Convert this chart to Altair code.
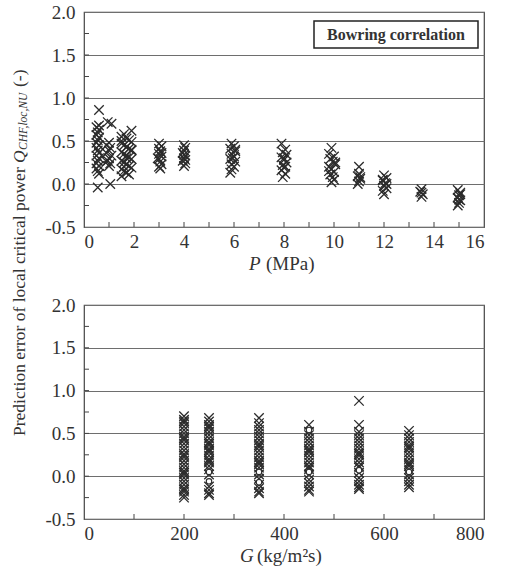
import altair as alt
import pandas as pd

FONT = "Liberation Serif"
INK = "#2b2b2b"

# ---------------- top panel: prediction error vs pressure P (MPa) ----------------
g05_x = [0.6, 0.6, 0.5, 0.6, 0.55, 0.5, 0.6, 0.55, 0.5, 0.6, 0.5, 0.55, 0.6, 0.5, 0.6, 0.55, 0.5, 0.6, 0.5, 0.55, 0.6, 0.55]
g05_y = [0.86, 0.68, 0.66, 0.63, 0.60, 0.57, 0.54, 0.51, 0.48, 0.45, 0.42, 0.39, 0.36, 0.33, 0.30, 0.27, 0.24, 0.21, 0.18, 0.15, 0.12, -0.04]
g10_x = [0.95, 1.1, 1.0, 0.9, 1.05, 1.0, 0.9, 1.1, 1.0, 0.95, 1.05, 1.0, 0.9, 1.05]
g10_y = [0.72, 0.70, 0.48, 0.45, 0.42, 0.39, 0.36, 0.33, 0.30, 0.27, 0.24, 0.21, 0.26, 0.00]
g17_x = [1.9, 1.6, 1.5, 1.7, 1.8, 1.9, 1.5, 1.6, 1.7, 1.8, 1.9, 1.5, 1.6, 1.7, 1.8,
         1.9, 1.5, 1.6, 1.7, 1.8, 1.9, 1.5, 1.6, 1.7, 1.8, 1.5, 1.9, 1.7, 1.6, 1.5]
g17_y = [0.62, 0.58, 0.55, 0.53, 0.51, 0.49, 0.47, 0.45, 0.43, 0.41, 0.39, 0.37, 0.35, 0.33, 0.31,
         0.29, 0.27, 0.25, 0.23, 0.21, 0.19, 0.17, 0.15, 0.13, 0.11, 0.09, 0.40, 0.30, 0.20, 0.50]
g3_x = [3.0, 3.1, 3.0, 3.05, 3.0, 3.1, 3.0, 3.05, 3.1, 3.0, 3.05, 3.1, 2.95]
g3_y = [0.47, 0.44, 0.41, 0.38, 0.35, 0.32, 0.29, 0.26, 0.23, 0.20, 0.18, 0.36, 0.30]
g4_x = [4.0, 4.05, 4.0, 3.95, 4.05, 4.0, 3.95, 4.05, 4.0, 4.0, 4.05]
g4_y = [0.45, 0.42, 0.39, 0.36, 0.33, 0.30, 0.27, 0.24, 0.21, 0.34, 0.28]
g6_x = [5.9, 6.0, 5.85, 6.05, 5.9, 6.0, 5.85, 6.05, 5.9, 6.0, 5.9, 5.85, 6.05, 5.95]
g6_y = [0.47, 0.44, 0.41, 0.38, 0.35, 0.32, 0.29, 0.26, 0.23, 0.20, 0.17, 0.13, 0.40, 0.30]
g8_x = [7.9, 8.05, 7.95, 8.1, 7.9, 8.0, 8.1, 7.95, 8.0, 7.9, 8.05, 7.95, 8.0, 8.05]
g8_y = [0.47, 0.40, 0.37, 0.34, 0.31, 0.28, 0.25, 0.22, 0.19, 0.16, 0.12, 0.08, 0.30, 0.20]
g10p_x = [9.9, 9.8, 10.0, 9.85, 9.95, 10.05, 9.8, 9.9, 10.0, 9.85, 9.95, 10.0, 9.9, 10.05, 9.8]
g10p_y = [0.42, 0.35, 0.32, 0.29, 0.26, 0.23, 0.20, 0.17, 0.14, 0.11, 0.08, 0.05, 0.02, 0.25, 0.15]
g11_x = [11.0, 11.0, 10.95, 11.05, 11.0, 10.95, 11.05]
g11_y = [0.20, 0.12, 0.09, 0.06, 0.03, 0.00, 0.08]
g12_x = [12.0, 12.1, 11.95, 12.05, 12.0, 12.1, 11.95, 12.0, 12.1, 11.95]
g12_y = [0.10, 0.07, 0.04, 0.01, -0.02, -0.05, -0.08, -0.12, 0.00, 0.05]
g135_x = [13.5, 13.45, 13.55, 13.5, 13.5]
g135_y = [-0.06, -0.09, -0.12, -0.15, -0.10]
g15_x = [14.95, 15.05, 15.0, 14.95, 15.05, 15.0, 14.95, 15.05, 15.0]
g15_y = [-0.07, -0.10, -0.13, -0.16, -0.19, -0.22, -0.25, -0.12, -0.18]

# ---------------- bottom panel: prediction error vs mass flux G ----------------
G_levels = [200, 250, 350, 450, 550, 650]
e_g200 = [0.70, 0.66, 0.62, 0.58, 0.54, 0.50, 0.46, 0.42, 0.38, 0.34, 0.30, 0.26, 0.22, 0.18, 0.14,
          0.10, 0.06, 0.02, -0.02, -0.06, -0.10, -0.14, -0.18, -0.22, -0.25, 0.64, 0.44, 0.24, 0.04, -0.16]
e_g250 = [0.68, 0.64, 0.60, 0.56, 0.52, 0.48, 0.44, 0.40, 0.36, 0.32, 0.28, 0.24, 0.20, 0.16, 0.12,
          0.08, 0.02, -0.12, -0.16, -0.20, -0.22, 0.58, 0.38, 0.18, 0.30]
e_g350 = [0.68, 0.62, 0.58, 0.54, 0.50, 0.46, 0.42, 0.38, 0.34, 0.30, 0.26, 0.22, 0.18, 0.14, 0.10,
          0.06, 0.02, -0.03, -0.10, -0.14, -0.18, -0.20, 0.36, 0.16]
e_g450 = [0.60, 0.52, 0.48, 0.44, 0.40, 0.36, 0.32, 0.28, 0.24, 0.20, 0.16, 0.12, 0.08, 0.02,
          -0.04, -0.08, -0.12, -0.16, -0.18, 0.30, 0.10]
e_g550 = [0.88, 0.60, 0.52, 0.48, 0.44, 0.40, 0.36, 0.32, 0.28, 0.24, 0.20, 0.16, 0.12, 0.04,
          -0.02, -0.06, -0.10, -0.13, -0.15, 0.26, 0.10]
e_g650 = [0.53, 0.48, 0.44, 0.40, 0.36, 0.32, 0.28, 0.24, 0.20, 0.16, 0.12, 0.08, 0.02,
          -0.02, -0.06, -0.10, -0.13, 0.34, 0.14]
circ_G = [250, 250, 350, 350, 450, 450, 550, 650]
circ_E = [-0.06, 0.05, -0.07, 0.05, 0.54, 0.05, 0.07, 0.05]

# axis values
y_major = [-0.5, 0.0, 0.5, 1.0, 1.5, 2.0]
y_minor = [-0.25, 0.0, 0.25, 0.5, 0.75, 1.0, 1.25, 1.5, 1.75]
p_major = [0, 2, 4, 6, 8, 10, 12, 14, 16]
p_minor = [1, 2, 3, 4, 5, 6, 7, 8, 9, 10, 11, 12, 13, 14, 15]
g_major = [0, 200, 400, 600, 800]
g_minor = [100, 200, 300, 400, 500, 600, 700]

# ---------------- build tables ----------------
top_rows = []
for xs, ys_ in [(g05_x, g05_y), (g10_x, g10_y), (g17_x, g17_y), (g3_x, g3_y), (g4_x, g4_y),
                (g6_x, g6_y), (g8_x, g8_y), (g10p_x, g10p_y), (g11_x, g11_y), (g12_x, g12_y),
                (g135_x, g135_y), (g15_x, g15_y)]:
    for a, b in zip(xs, ys_):
        top_rows.append({"P": a, "E": b})
top_df = pd.DataFrame(top_rows)

bot_rows = []
for g, es in zip(G_levels, [e_g200, e_g250, e_g350, e_g450, e_g550, e_g650]):
    for e in es:
        bot_rows.append({"G": g, "E": e})
bot_df = pd.DataFrame(bot_rows)
circ_df = pd.DataFrame({"G": circ_G, "E": circ_E})

one = pd.DataFrame({"k": [0]})

W, H1, H2 = 400, 215, 214
XSHAPE = "M-1,-1L1,1M-1,1L1,-1"

ys = alt.Scale(domain=[-0.5, 2.0], nice=False, zero=False)
xs_top = alt.Scale(domain=[0, 16], nice=False, zero=False)
xs_bot = alt.Scale(domain=[0, 800], nice=False, zero=False)

y_axis = alt.Axis(values=y_major, grid=True, gridColor="#6e6e6e", gridWidth=1, domain=False,
                  ticks=False, labelFont=FONT, labelFontSize=19, labelColor="#333", labelPadding=9,
                  title=None,
                  labelExpr="datum.value < 0 ? '-' + format(-datum.value, '.1f') : format(datum.value, '.1f')")


def x_axis(vals):
    return alt.Axis(values=vals, grid=False, domain=False, ticks=False, labelFont=FONT,
                    labelFontSize=19, labelColor="#333", labelPadding=5, title=None, format="d")


def xmarks(df, xfield, xscale, vals):
    return alt.Chart(df).mark_point(shape=XSHAPE, filled=False, size=90, stroke=INK,
                                    strokeWidth=1.3, opacity=1).encode(
        x=alt.X(f"{xfield}:Q", scale=xscale, axis=x_axis(vals)),
        y=alt.Y("E:Q", scale=ys, axis=y_axis),
    )


def yticks():
    return alt.Chart(pd.DataFrame({"E": y_minor})).mark_rule(color="#444", strokeWidth=1).encode(
        y=alt.Y("E:Q", scale=ys, axis=y_axis), x=alt.value(0), x2=alt.value(5))


def xticks(field, vals, xscale, major, h):
    return alt.Chart(pd.DataFrame({field: vals})).mark_rule(color="#444", strokeWidth=1).encode(
        x=alt.X(f"{field}:Q", scale=xscale, axis=x_axis(major)), y=alt.value(h), y2=alt.value(h - 5))


def txt(s, x, y, size=19, style="normal", weight="normal", align="left", angle=0):
    kw = dict(text=s, font=FONT, fontSize=size, fontStyle=style, fontWeight=weight,
              align=align, baseline="middle", color="#333")
    if angle:
        kw["angle"] = angle
    return alt.Chart(one).mark_text(**kw).encode(x=alt.value(x), y=alt.value(y))


box = alt.Chart(one).mark_rect(fill="white", stroke="#222", strokeWidth=1.5).encode(
    x=alt.value(230), x2=alt.value(394), y=alt.value(9), y2=alt.value(36))

top = alt.layer(
    xmarks(top_df, "P", xs_top, p_major),
    yticks(),
    xticks("P", p_minor, xs_top, p_major, H1),
    box,
    txt("Bowring correlation", 312, 23, size=16, weight="bold", align="center"),
    txt("P", 165, 252, style="italic"),
    txt("(MPa)", 182, 252),
    # y title (spans both panels), reads bottom-to-top
    txt("Prediction error of local critical power", -64, 424, size=17.5, angle=270),
    txt("Q", -64, 151, size=17.5, style="italic", angle=270),
    txt("CHF,loc,NU", -60, 138, size=11.5, style="italic", angle=270),
    txt("(-)", -64, 75, size=17.5, angle=270),
).properties(width=W, height=H1)

bottom = alt.layer(
    xmarks(bot_df, "G", xs_bot, g_major),
    alt.Chart(circ_df).mark_point(shape="circle", filled=True, fill="white", stroke=INK,
                                  strokeWidth=1.1, size=30, opacity=1).encode(
        x=alt.X("G:Q", scale=xs_bot, axis=x_axis(g_major)), y=alt.Y("E:Q", scale=ys, axis=y_axis)),
    yticks(),
    xticks("G", g_minor, xs_bot, g_major, H2),
    txt("G", 156, 251, style="italic"),
    txt("(kg/m²s)", 173, 251),
).properties(width=W, height=H2)

chart = alt.vconcat(top, bottom, spacing=78, bounds="flush").configure_view(
    stroke="#444", strokeWidth=1.2
).properties(
    padding={"left": 10, "top": 2, "right": 5, "bottom": 0},
    background="white",
)

chart.save("out.html", embed_options={"renderer": "svg", "actions": False})
